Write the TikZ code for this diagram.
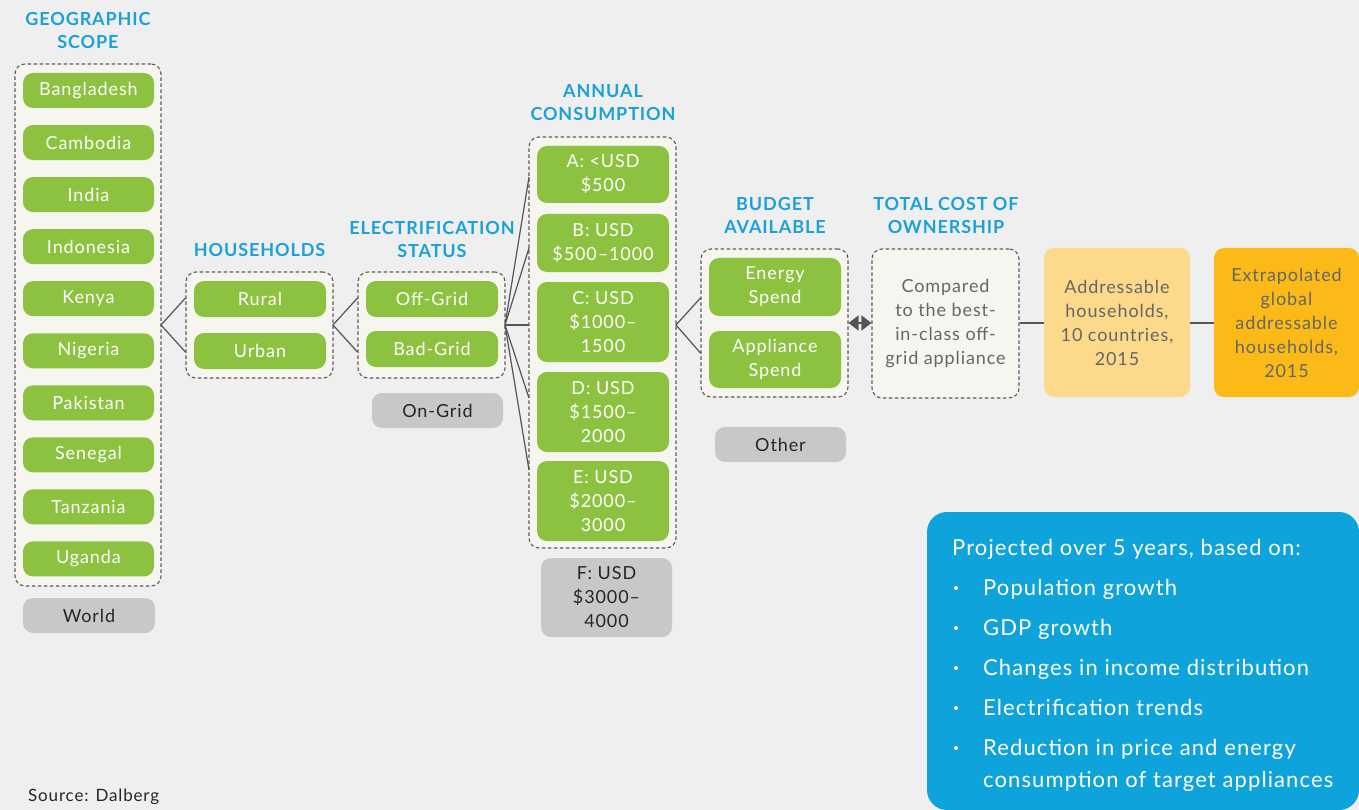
\documentclass[tikz,border=0pt]{standalone}
\usepackage{fontspec}
\setmainfont{Lato}[LetterSpace=5]
\usetikzlibrary{arrows.meta}
\definecolor{bg}{HTML}{EFEFEF}
\definecolor{framefill}{HTML}{F6F5F0}
\definecolor{framedraw}{HTML}{5A5A5A}
\definecolor{leaf}{HTML}{8CC23F}
\definecolor{greybox}{HTML}{C8C8CA}
\definecolor{headblue}{HTML}{1AA1DB}
\definecolor{boxblue}{HTML}{0EA3DB}
\definecolor{lightorange}{HTML}{FDD98B}
\definecolor{orangebox}{HTML}{FBBA17}
\definecolor{linegrey}{HTML}{555555}
\definecolor{textgrey}{HTML}{666666}
\begin{document}
\begin{tikzpicture}[x=1pt,y=-1pt,
  frame/.style={draw=framedraw,fill=framefill,dashed,dash pattern=on 3.5pt off 2.5pt,line width=1.1pt,rounded corners=10pt,inner sep=0pt},
  leafbox/.style={fill=leaf,text=white,rounded corners=10pt,inner sep=0pt,align=center,font=\fontsize{18}{24}\selectfont},
  greyleaf/.style={fill=greybox,text=black!85,rounded corners=10pt,inner sep=0pt,align=center,font=\fontsize{18}{24}\selectfont},
  header/.style={text=headblue,align=center,font=\bfseries\fontsize{18}{23}\selectfont},
  link/.style={draw=linegrey,line width=1.2pt},
  bluetext/.style={text=white,anchor=base west,inner sep=0pt,font=\fontsize{22}{30}\selectfont}
]
\useasboundingbox[fill=bg] (0,0) rectangle (1359,810);

% headers
\node[header] (h1) at (88,30.5) {GEOGRAPHIC\\SCOPE};
\node[header] (h2) at (259.5,250) {HOUSEHOLDS};
\node[header] (h3) at (432,239) {ELECTRIFICATION\\STATUS};
\node[header] (h4) at (603,103) {ANNUAL\\CONSUMPTION};
\node[header] (h5) at (775,215) {BUDGET\\AVAILABLE};
\node[header] (h6) at (946,215) {TOTAL COST OF\\OWNERSHIP};

% frames
\node[frame,minimum width=146pt,minimum height=522pt] (geo) at (88,325) {};
\node[frame,minimum width=147pt,minimum height=106pt] (hh) at (259.5,325) {};
\node[frame,minimum width=147pt,minimum height=106pt] (el) at (431.5,325) {};
\node[frame,minimum width=147pt,minimum height=411pt] (an) at (602.5,342.5) {};
\node[frame,minimum width=147pt,minimum height=148pt] (bud) at (774.5,323) {};
\node[frame,minimum width=147pt,minimum height=149pt,text=textgrey,align=center,font=\fontsize{18}{24}\selectfont] (tco) at (945.5,323.5) {Compared\\to the best-\\in-class off-\\grid appliance};

% countries
\foreach \c [count=\i from 0] in {Bangladesh,Cambodia,India,Indonesia,Kenya,Nigeria,Pakistan,Senegal,Tanzania,Uganda}{
  \node[leafbox,minimum width=131pt,minimum height=35pt] (c\i) at (88.5,90.5+52.05*\i) {\c};
}
\node[greyleaf,minimum width=132pt,minimum height=35pt] (world) at (89,615.5) {World};

% households
\node[leafbox,minimum width=132pt,minimum height=36pt] (rural) at (260,299) {Rural};
\node[leafbox,minimum width=132pt,minimum height=36pt] (urban) at (260,351) {Urban};

% electrification
\node[leafbox,minimum width=132pt,minimum height=36pt] (off) at (432,299) {Off-Grid};
\node[leafbox,minimum width=132pt,minimum height=36pt] (bad) at (432,349) {Bad-Grid};
\node[greyleaf,minimum width=131pt,minimum height=35pt] (ongrid) at (437.5,410.5) {On-Grid};

% annual consumption
\node[leafbox,minimum width=132pt,minimum height=57pt] (ca) at (603,174.5) {A: <USD\\\$500};
\node[leafbox,minimum width=132pt,minimum height=58pt] (cb) at (603,243) {B: USD\\\$500--1000};
\node[leafbox,minimum width=132pt,minimum height=80pt] (cc) at (603,322) {C: USD\\\$1000--\\1500};
\node[leafbox,minimum width=132pt,minimum height=80pt] (cd) at (603,412) {D: USD\\\$1500--\\2000};
\node[leafbox,minimum width=132pt,minimum height=80pt] (ce) at (603,501) {E: USD\\\$2000--\\3000};
\node[greyleaf,minimum width=131pt,minimum height=79pt] (cf) at (606.5,597.5) {F: USD\\\$3000--\\4000};

% budget
\node[leafbox,minimum width=132pt,minimum height=58pt] (energy) at (775,287) {Energy\\Spend};
\node[leafbox,minimum width=132pt,minimum height=57pt] (appl) at (775,359.5) {Appliance\\Spend};
\node[greyleaf,minimum width=131pt,minimum height=35pt] (other) at (780.5,444.5) {Other};

% results
\node[fill=lightorange,rounded corners=10pt,minimum width=146pt,minimum height=149pt,inner sep=0pt,text=textgrey,align=center,font=\fontsize{18}{24}\selectfont] (addr) at (1117,322.5) {Addressable\\households,\\10 countries,\\2015};
\node[fill=orangebox,rounded corners=10pt,minimum width=145pt,minimum height=149pt,inner sep=0pt,text=textgrey,align=center,font=\fontsize{18}{24}\selectfont] (extra) at (1286.5,322.5) {Extrapolated\\global\\addressable\\households,\\2015};

% connector coordinates
\coordinate (geoout) at (161,325);
\coordinate (hhout) at (333,325);
\coordinate (elout) at (505,325);
\coordinate (anout) at (676,325);
\coordinate (a1) at (529,177);
\coordinate (a2) at (529,248);
\coordinate (a3) at (529,325);
\coordinate (a4) at (529,398);
\coordinate (a5) at (529,470);

\draw[link] (hh.west |- 0,298) -- (geoout) -- (hh.west |- 0,352);
\draw[link] (el.west |- 0,298) -- (hhout) -- (el.west |- 0,352);
\foreach \k in {1,...,5}{\draw[link] (elout) -- (a\k);}
\draw[link] (bud.west |- 0,298) -- (anout) -- (bud.west |- 0,353);
\draw[draw=linegrey,line width=1.8pt,{Triangle[length=10pt,width=15pt]}-{Triangle[length=10pt,width=15pt]}] (bud.east |- 0,323) -- (tco.west |- 0,323);
\draw[link] (tco.east |- 0,323) -- (addr.west |- 0,323);
\draw[link] (addr.east |- 0,323) -- (extra.west |- 0,323);

% blue box
\node[fill=boxblue,rounded corners=20pt,minimum width=432pt,minimum height=298pt,inner sep=0pt] (proj) at (1143,661) {};
\node[bluetext] (p0) at (952,555) {Projected over 5 years, based on:};
\foreach \t [count=\i from 1] in {Population growth,GDP growth,Changes in income distribution,Electrification trends,Reduction in price and energy}{
  \node[bluetext] (b\i) at (983,555+40*\i) {\t};
  \fill[white] (956,548+40*\i) circle (2.1pt);
}
\node[bluetext] (b6) at (983,787) {consumption of target appliances};

\node[anchor=base west,inner sep=0pt,text=black!85,font=\fontsize{17}{20}\selectfont] (src) at (28,801) {Source: Dalberg};
\end{tikzpicture}
\end{document}
